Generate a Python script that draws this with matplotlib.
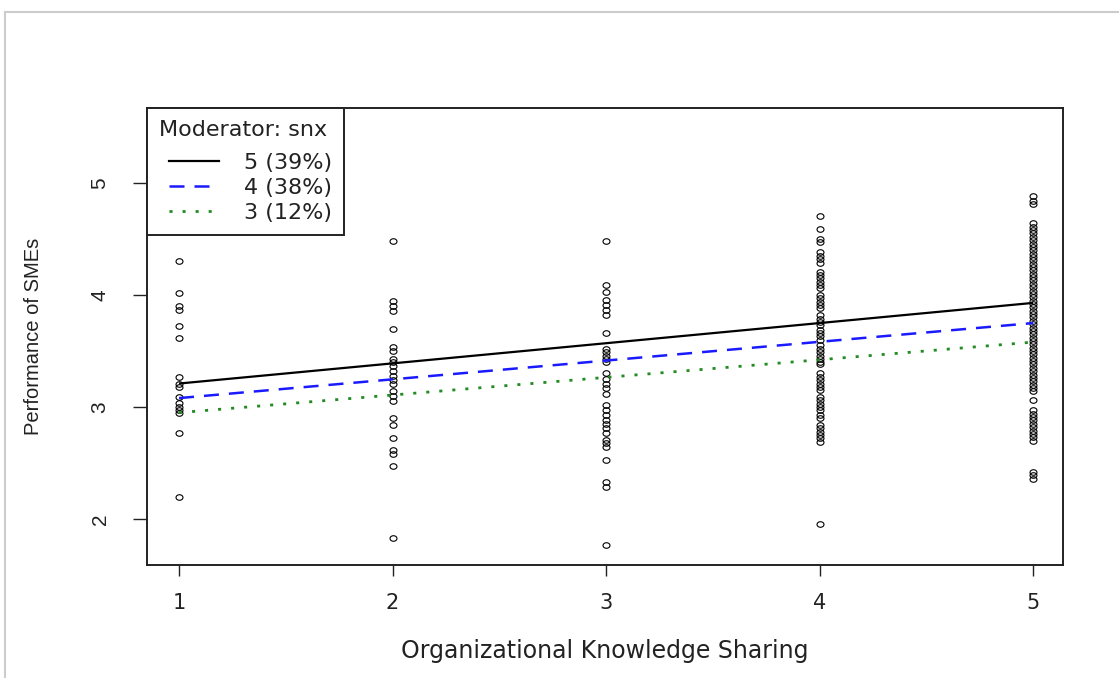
import matplotlib
matplotlib.use("Agg")
import numpy as np
import matplotlib.pyplot as plt
from matplotlib.lines import Line2D
from matplotlib.path import Path
from matplotlib.markers import MarkerStyle
from matplotlib.legend_handler import HandlerLine2D

# Observed scores at each level of knowledge sharing
x_levels = [1, 2, 3, 4, 5]
perf_at_1 = [4.30, 4.02, 3.90, 3.87, 3.72, 3.62, 3.27, 3.21, 3.18, 3.09, 3.04,
             3.00, 2.97, 2.95, 2.77, 2.20]
perf_at_2 = [4.48, 3.95, 3.90, 3.86, 3.70, 3.54, 3.50, 3.43, 3.40, 3.37, 3.32,
             3.28, 3.24, 3.21, 3.14, 3.10, 3.05, 2.90, 2.84, 2.72, 2.62, 2.58,
             2.47, 1.83]
perf_at_3 = [4.48, 4.09, 4.03, 3.96, 3.91, 3.87, 3.82, 3.66, 3.52, 3.49, 3.46,
             3.43, 3.40, 3.30, 3.25, 3.21, 3.17, 3.12, 3.02, 2.97, 2.93, 2.88,
             2.85, 2.81, 2.77, 2.71, 2.68, 2.64, 2.53, 2.33, 2.29, 1.77]
perf_at_4 = [4.71, 4.59, 4.50, 4.47, 4.38, 4.35, 4.32, 4.29, 4.21, 4.18, 4.15,
             4.12, 4.09, 4.06, 4.00, 3.97, 3.94, 3.91, 3.88, 3.82, 3.79, 3.76,
             3.73, 3.69, 3.66, 3.63, 3.60, 3.55, 3.52, 3.49, 3.46, 3.43, 3.40,
             3.38, 3.30, 3.27, 3.24, 3.21, 3.18, 3.15, 3.09, 3.06, 3.03, 3.00,
             2.97, 2.93, 2.90, 2.84, 2.81, 2.78, 2.75, 2.72, 2.69, 1.96]
perf_at_5 = [4.88, 4.84, 4.81, 4.64, 4.61, 4.58, 4.55, 4.52, 4.49, 4.46, 4.43,
             4.40, 4.37, 4.34, 4.31, 4.28, 4.25, 4.22, 4.19, 4.16, 4.13, 4.10,
             4.07, 4.04, 4.01, 3.98, 3.95, 3.92, 3.89, 3.86, 3.83, 3.80, 3.77,
             3.74, 3.71, 3.68, 3.65, 3.62, 3.59, 3.56, 3.53, 3.50, 3.47, 3.44,
             3.41, 3.38, 3.35, 3.32, 3.29, 3.26, 3.23, 3.20, 3.17, 3.14, 3.06,
             2.97, 2.94, 2.91, 2.88, 2.85, 2.82, 2.79, 2.76, 2.73, 2.70, 2.42,
             2.39, 2.36]
observed = [perf_at_1, perf_at_2, perf_at_3, perf_at_4, perf_at_5]

# Predicted lines at three levels of the moderator (snx)
line_x = [1, 5]
fit_snx5 = [3.21, 3.93]
fit_snx4 = [3.08, 3.75]
fit_snx3 = [2.95, 3.58]
legend_title = "Moderator: snx"
legend_labels = ["5 (39%)", "4 (38%)", "3 (12%)"]

WIDE = ['DejaVu Sans']
NARROW = ['Liberation Sans', 'DejaVu Sans']
plt.rcParams['font.family'] = WIDE
INK = '#222222'


class IndentedLine(HandlerLine2D):
    """Legend line sample pushed a little to the right of the title."""
    indent = 7.2

    def create_artists(self, legend, orig_handle, xdescent, ydescent, width,
                       height, fontsize, trans):
        return super().create_artists(legend, orig_handle,
                                      xdescent - self.indent, ydescent,
                                      width - self.indent, height, fontsize,
                                      trans)


# slightly wide open-circle marker
circ = Path.unit_circle()
ell = Path(circ.vertices * np.array([1.25, 1.0]), circ.codes)
ell_marker = MarkerStyle(ell)

fig = plt.figure(figsize=(11.19, 6.78), dpi=100)
ax = fig.add_axes([0.1314, 0.1667, 0.8186, 0.674])

for xv, ys in zip(x_levels, observed):
    ax.plot([xv] * len(ys), ys, linestyle='none', marker=ell_marker, ms=5.0,
            mfc='none', mec='black', mew=0.8)

ax.plot(line_x, fit_snx5, color='black', lw=1.6, solid_capstyle='butt')
ax.plot(line_x, fit_snx4, color='#1a1aff', lw=1.8, linestyle=(0, (6, 4)))
ax.plot(line_x, fit_snx3, color='#228B22', lw=2.0, linestyle=(0, (1.1, 3.6)))

ax.set_xlim(0.85, 5.14)
ax.set_ylim(1.59, 5.67)
ax.set_xticks(x_levels)
ax.set_yticks([2, 3, 4, 5])
ax.tick_params(axis='x', direction='out', length=8, width=1.0,
               labelsize=15, pad=12, colors=INK)
ax.tick_params(axis='y', direction='out', length=10, width=1.0,
               labelsize=15, pad=17, colors=INK)
for lab in ax.get_yticklabels():
    lab.set_rotation(90)
    lab.set_va('center')
    lab.set_family(NARROW)
for sp in ax.spines.values():
    sp.set_linewidth(1.4)
    sp.set_color(INK)

ax.set_xlabel("Organizational Knowledge Sharing", fontsize=17, labelpad=19,
              color=INK)
ax.set_ylabel("Performance of SMEs", fontsize=14.5, labelpad=34,
              color=INK, family=NARROW)

handles = [
    Line2D([], [], color='black', lw=1.6),
    Line2D([], [], color='#1a1aff', lw=1.8, linestyle=(0, (6, 4))),
    Line2D([], [], color='#228B22', lw=2.0, linestyle=(0, (1.1, 3.6))),
]
leg = ax.legend(handles, legend_labels, title=legend_title, loc='upper left',
                borderaxespad=0, fancybox=False, framealpha=1,
                edgecolor=INK, fontsize=16, title_fontsize=16,
                handlelength=2.7, handletextpad=1.1, labelspacing=0.22,
                borderpad=0.55, alignment='left',
                handler_map={Line2D: IndentedLine()})
leg._legend_box.sep = 9.0
leg.get_frame().set_linewidth(1.4)
for t in leg.get_texts():
    t.set_color(INK)
leg.get_title().set_color(INK)

# light border lines along the top and left of the canvas
fig.add_artist(Line2D([5 / 1119, 1], [1 - 12 / 678, 1 - 12 / 678],
                      color='#cccccc', lw=1.5, transform=fig.transFigure))
fig.add_artist(Line2D([5 / 1119, 5 / 1119], [0, 1 - 12 / 678],
                      color='#cccccc', lw=1.5, transform=fig.transFigure))

fig.savefig("out.png", dpi=100)
